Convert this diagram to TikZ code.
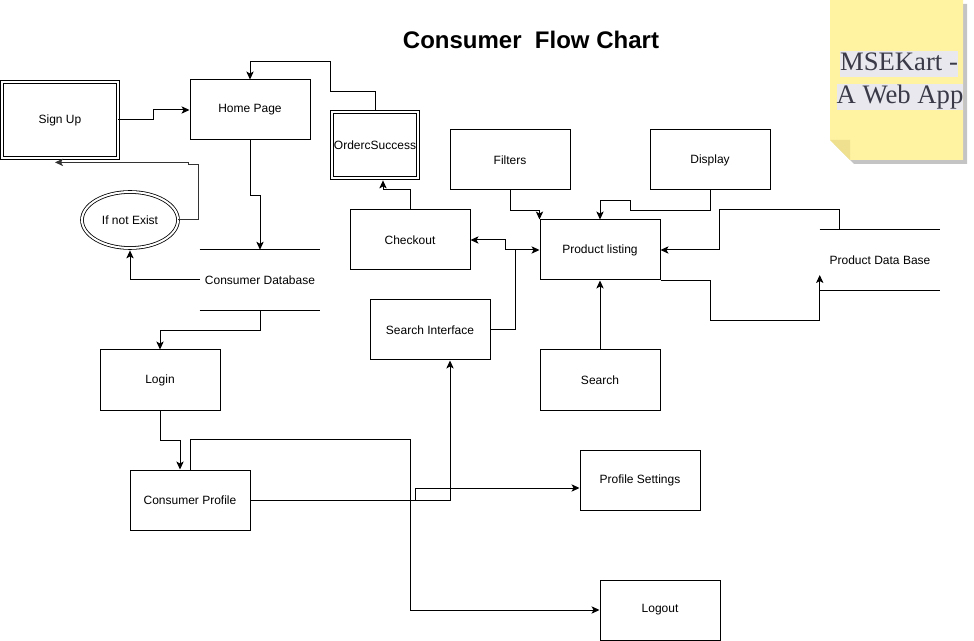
\documentclass[tikz,border=0pt]{standalone}
\usepackage{fontspec}
\setmainfont{Liberation Sans}
\newfontfamily\notefont{Liberation Serif}
\usetikzlibrary{arrows.meta,calc,shapes.geometric}
\definecolor{notey}{HTML}{FFF3A2}
\definecolor{notefold}{HTML}{EEE08E}
\definecolor{notetxt}{HTML}{3A3A48}
\definecolor{notehl}{HTML}{E8E8EE}
\definecolor{noteshadow}{HTML}{C4C4C4}
\begin{document}
\begin{tikzpicture}[x=0.75pt,y=-0.75pt,
  lbl/.style={font=\fontsize{9}{11}\selectfont},
  box/.style={lbl, draw, line width=0.75pt, minimum width=90pt, minimum height=45pt, inner sep=0pt},
  dbox/.style={lbl, draw, double, double distance=1.5pt, line width=0.6pt, inner sep=0pt},
  store/.style={lbl, minimum width=90pt, minimum height=45pt, inner sep=0pt},
  conn/.style={line width=0.75pt},
  tip/.tip={Stealth[length=6pt,width=5.5pt,inset=1.5pt]},
  arr/.style={conn, -tip},
  darr/.style={conn, tip-tip},
  hl/.style={fill=notehl, text=notetxt, inner sep=0pt, font=\notefont\fontsize{20}{24}\selectfont, text height=14.5pt, text depth=4.5pt},
]
\useasboundingbox (0,0) rectangle (974,641);

% sticky note
\fill[noteshadow] (834,4) -- (967,4) -- (967,164) -- (854,164) -- (834,144) -- cycle;
\fill[notey] (830,0) -- (963,0) -- (963,160) -- (850,160) -- (830,140) -- cycle;
\fill[notefold] (830,140) -- (850,140) -- (850,160) -- cycle;
\node[hl] (n1) at (899,64) {MSEKart -};
\node[hl] (n2) at (900,97) {A Web App};

% title
\node[font=\bfseries\fontsize{18}{22}\selectfont] (title) at (531,40) {Consumer\ \ Flow Chart};

% nodes
\node[dbox, minimum width=87pt, minimum height=57pt] (su) at (60,120) {Sign Up};
\node[box] (hp) at (250,110) {Home Page};
\node[dbox, minimum width=64.5pt, minimum height=49.5pt] (os) at (375,145) {OrdercSuccess};
\node[dbox, ellipse, minimum width=72pt, minimum height=42pt] (ine) at (130,220) {If not Exist};
\node[store] (cdb) at (260,280) {Consumer Database};
\node[box] (co) at (410,240) {Checkout};
\node[box] (fi) at (510,160) {Filters};
\node[box] (di) at (710,160) {Display};
\node[box] (pl) at (600,250) {Product listing};
\node[store] (pdb) at (880,260) {Product Data Base};
\node[box] (si) at (430,330) {Search Interface};
\node[box] (se) at (600,380) {Search};
\node[box] (li) at (160,380) {Login};
\node[box] (cp) at (190,500) {Consumer Profile};
\node[box] (ps) at (640,480) {Profile Settings};
\node[box] (lo) at (660,610) {Logout};

% data store lines
\draw[conn] (cdb.north west) -- (cdb.north east);
\draw[conn] (cdb.south west) -- (cdb.south east);
\draw[conn] (pdb.north west) -- (pdb.north east);
\draw[conn] (pdb.south west) -- (pdb.south east);

% connectors
\draw[arr] (su.east) -- ++(35,0) |- (hp.west);
\draw[arr] (hp.south) -- ++(0,55) -| (cdb.north);
\draw[arr] ($(os.north)+(0,-2)$) -- ++(0,-18) -- ++(-45,0) -- ++(0,-30) -| (hp.north);
\draw[arr, black!80] (ine.east) -- ++(20,0) -- ++(0,-55) -- ++(-10,0) |- ($(su.south)+(-5,4)$);
\draw[arr] (cdb.west) -| ($(ine.south)+(0,2)$);
\draw[arr] (cdb.south) -- ++(0,20) -| (li.north);
\draw[arr] (li.south) -- ++(0,30) -| ($(cp.north)+(-10,0)$);
\draw[arr] (cp.north) -- ++(0,-30) -- ++(220,0) |- (lo.west);
\draw[arr] (cp.east) -| ($(si.south)+(20,0)$);
\draw[arr] (cp.east) -- ++(165,0) |- ($(ps.west)+(0,8)$);
\draw[arr] (co.north) -- ++(0,-20) -| ($(os.south)+(8,2)$);
\draw[darr] (co.east) -- ++(35,0) |- (pl.west);
\draw[conn] (si.east) -- ++(25,0) |- ($(pl.west)+(-25,0)$);
\draw[arr] (fi.south) -- ++(0,20) -| (pl.north west);
\draw[arr] (di.south) -- ++(0,20) -- ++(-80,0) -- ++(0,-10) -| (pl.north);
\draw[arr] ($(pdb.north west)+(20,0)$) -- ++(0,-20) -- ++(-120,0) |- (pl.east);
\draw[arr] (pl.south east) -- ++(50,0) -- ++(0,40) -| ($(pdb.west)+(0,15)$);
\draw[arr] (se.north) -- (pl.south);
\end{tikzpicture}
\end{document}
